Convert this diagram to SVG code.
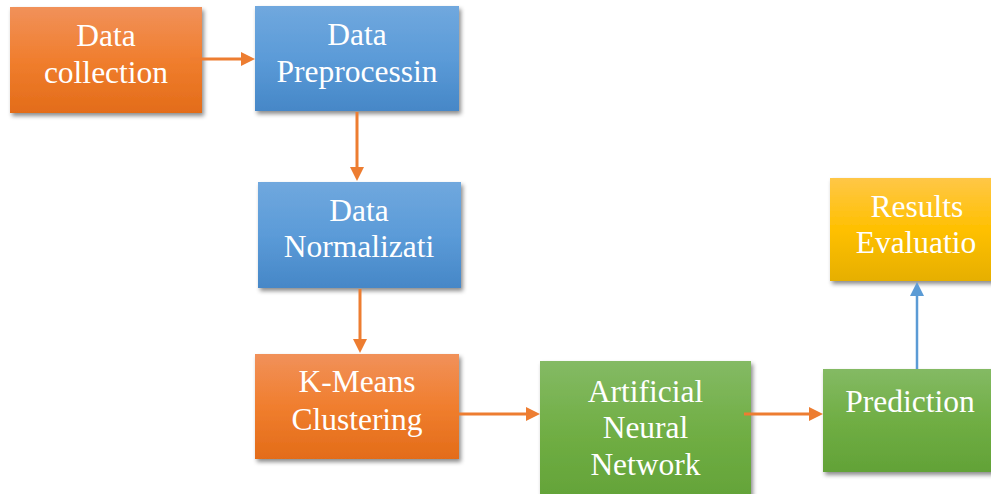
<svg xmlns="http://www.w3.org/2000/svg" width="991" height="494" viewBox="0 0 991 494">
  <defs>
    <linearGradient id="gOrange" x1="0" y1="0" x2="0" y2="1">
      <stop offset="0" stop-color="#F1915A"/>
      <stop offset="0.5" stop-color="#F07E2E"/>
      <stop offset="1" stop-color="#E36C19"/>
    </linearGradient>
    <linearGradient id="gBlue" x1="0" y1="0" x2="0" y2="1">
      <stop offset="0" stop-color="#70A8DE"/>
      <stop offset="0.5" stop-color="#5B9BD8"/>
      <stop offset="1" stop-color="#4687C7"/>
    </linearGradient>
    <linearGradient id="gGreen" x1="0" y1="0" x2="0" y2="1">
      <stop offset="0" stop-color="#84BA64"/>
      <stop offset="0.5" stop-color="#70AE44"/>
      <stop offset="1" stop-color="#62A237"/>
    </linearGradient>
    <linearGradient id="gGold" x1="0" y1="0" x2="0" y2="1">
      <stop offset="0" stop-color="#FFC747"/>
      <stop offset="0.5" stop-color="#FFC000"/>
      <stop offset="1" stop-color="#E6AF00"/>
    </linearGradient>
    <filter id="shadow" x="-10%" y="-10%" width="125%" height="130%">
      <feDropShadow dx="2" dy="3" stdDeviation="2" flood-color="#000000" flood-opacity="0.45"/>
    </filter>
    <marker id="headOrange" markerUnits="userSpaceOnUse" markerWidth="14" markerHeight="14" viewBox="0 0 14 14" refX="6" refY="7" orient="auto">
      <path d="M0,0 L14,7 L0,14 z" fill="#ED7D31"/>
    </marker>
    <marker id="headBlue" markerUnits="userSpaceOnUse" markerWidth="14" markerHeight="14" viewBox="0 0 14 14" refX="6" refY="7" orient="auto">
      <path d="M0,0 L14,7 L0,14 z" fill="#5B9BD5"/>
    </marker>
  </defs>
  <style>
    .box { filter: url(#shadow); }
    .lbl { font-size: 31.5px; fill: #FFFFFF; text-anchor: middle; }
    .conn { fill: none; stroke-width: 3; }
    .orange { stroke: #ED7D31; marker-end: url(#headOrange); }
    .blue { stroke: #5B9BD5; stroke-width: 2.5; marker-end: url(#headBlue); }
  </style>
  <rect width="991" height="494" fill="#FFFFFF"/>

  <g font-family="'Liberation Serif', 'Times New Roman', serif">
  <g id="node-data-collection">
    <rect class="box" x="10" y="7" width="192" height="106" fill="url(#gOrange)"/>
    <text class="lbl" x="106" y="46">Data</text>
    <text class="lbl" x="106" y="83">collection</text>
  </g>

  <g id="node-data-preprocessing">
    <rect class="box" x="255" y="6" width="204" height="105" fill="url(#gBlue)"/>
    <text class="lbl" x="357" y="45">Data</text>
    <text class="lbl" x="357" y="82">Preprocessin</text>
  </g>

  <g id="node-data-normalization">
    <rect class="box" x="258" y="182" width="203" height="106" fill="url(#gBlue)"/>
    <text class="lbl" x="359" y="221">Data</text>
    <text class="lbl" x="359" y="257">Normalizati</text>
  </g>

  <g id="node-kmeans">
    <rect class="box" x="255" y="354" width="204" height="105" fill="url(#gOrange)"/>
    <text class="lbl" x="357" y="392">K-Means</text>
    <text class="lbl" x="357" y="430">Clustering</text>
  </g>

  <g id="node-ann">
    <rect class="box" x="540" y="361" width="211" height="145" fill="url(#gGreen)"/>
    <text class="lbl" x="645.5" y="402">Artificial</text>
    <text class="lbl" x="645.5" y="438">Neural</text>
    <text class="lbl" x="645.5" y="475">Network</text>
  </g>

  <g id="node-prediction">
    <rect class="box" x="823" y="369" width="174" height="103" fill="url(#gGreen)"/>
    <text class="lbl" x="910" y="412">Prediction</text>
  </g>

  <g id="node-results">
    <rect class="box" x="830" y="178" width="174" height="103" fill="url(#gGold)"/>
    <text class="lbl" x="917" y="217">Results</text>
    <text class="lbl" x="916" y="253">Evaluatio</text>
  </g>
  </g>

  <g id="connectors">
    <line class="conn orange" x1="190" y1="59" x2="247" y2="59"/>
    <line class="conn orange" x1="357" y1="112" x2="357" y2="173"/>
    <line class="conn orange" x1="360" y1="289" x2="360" y2="345"/>
    <line class="conn orange" x1="459" y1="414" x2="532" y2="414"/>
    <line class="conn orange" x1="744" y1="414" x2="815" y2="414"/>
    <line class="conn blue" x1="917" y1="369" x2="917" y2="290"/>
  </g>
</svg>
